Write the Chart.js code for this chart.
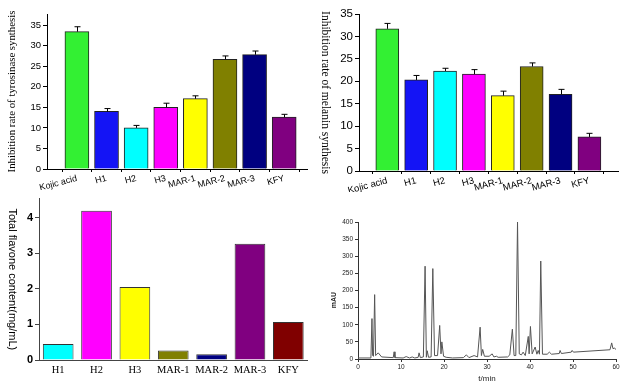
<!DOCTYPE html>
<html>
<head>
<meta charset="utf-8">
<script src="https://cdn.jsdelivr.net/npm/chart.js@4"></script>
<style>
  body { margin: 0; background: #fff; }
  #wrap { position: relative; width: 630px; height: 386px; overflow: hidden; }
  canvas { position: absolute; }
</style>
</head>
<body>
<div id="wrap">
  <canvas id="tyr" width="315" height="190" style="left:0;top:0"></canvas>
  <canvas id="mel" width="315" height="192" style="left:315px;top:0"></canvas>
  <canvas id="flav" width="315" height="196" style="left:0;top:190px"></canvas>
  <canvas id="hplc" width="310" height="196" style="left:320px;top:190px"></canvas>
</div>
<script>
// Inhibition panels (top row)
const inhibitionLabels = ['Kojic acid', 'H1', 'H2', 'H3', 'MAR-1', 'MAR-2', 'MAR-3', 'KFY'];
const inhibitionColors = ['#33f033', '#1414f5', '#00ffff', '#ff00ff', '#ffff00', '#808000', '#000080', '#800080'];
const tyrosinaseRate = [33.4, 14.0, 10.0, 15.0, 17.1, 26.7, 27.8, 12.6];
const tyrosinaseErr = [1.2, 0.7, 0.6, 1.0, 0.7, 0.8, 0.9, 0.7];
const melaninRate = [31.7, 20.3, 22.3, 21.6, 16.8, 23.3, 17.1, 7.6];
const melaninErr = [1.2, 1.0, 0.6, 1.0, 1.0, 0.8, 1.1, 0.8];

// Flavone panel (bottom left)
const flavoneLabels = ['H1', 'H2', 'H3', 'MAR-1', 'MAR-2', 'MAR-3', 'KFY'];
const flavoneColors = ['#00ffff', '#ff00ff', '#ffff00', '#808000', '#000080', '#800080', '#800000'];
const flavoneContent = [0.45, 4.2, 2.05, 0.27, 0.16, 3.27, 1.07];

// HPLC chromatogram (bottom right)
const chromTime = [0, 3.0, 3.25, 3.4, 3.6, 3.87, 4.1, 4.7, 5.5, 8.2, 8.4, 8.6, 10.5, 11.2, 12, 12.6, 13.2, 14.0, 14.2, 14.5,
  15.2, 15.6, 15.9, 16.1, 16.4, 17.0, 17.4, 17.8, 18.5, 19.0, 19.3, 19.5, 19.9, 20.5, 22, 24.5, 25.2, 25.8, 27, 27.8,
  28.4, 28.7, 29.0, 29.4, 30.5, 31.2, 31.6, 32.2, 32.6, 34.8, 35.3, 35.9, 36.3, 36.7, 37.1, 37.5, 38.0, 38.4, 38.9, 39.6,
  39.8, 40.1, 40.5, 41.2, 41.6, 41.9, 42.2, 42.5, 42.9, 44.0, 44.5, 45.0, 46.8, 47.0, 47.3, 49.6, 49.8, 50.1, 58.6, 59.0,
  59.3, 59.6, 60];
const chromSignal = [3, 3, 118, 10, 8, 188, 10, 18, 6, 4, 21, 4, 3, 7, 3, 6, 3, 5, 18, 4,
  6, 271, 5, 24, 5, 6, 264, 10, 10, 98, 15, 50, 8, 5, 3, 4, 12, 4, 10, 6,
  93, 10, 28, 8, 8, 15, 6, 8, 5, 6, 12, 87, 10, 10, 400, 15, 12, 20, 10, 66,
  15, 95, 15, 35, 14, 25, 14, 286, 14, 14, 20, 14, 16, 25, 16, 20, 25, 20, 27, 47,
  30, 32, 28];

Chart.defaults.font.family = 'Liberation Sans, Arial, sans-serif';
Chart.defaults.color = '#000';
Chart.defaults.animation = false;

// Draw upper error whiskers on top of each bar
const errorBars = {
  id: 'errorBars',
  afterDatasetsDraw(chart, args, opts) {
    if (!opts.errors) return;
    const ctx = chart.ctx;
    const yScale = chart.scales.y;
    const meta = chart.getDatasetMeta(0);
    ctx.save();
    ctx.strokeStyle = '#000';
    ctx.lineWidth = 1;
    meta.data.forEach((bar, i) => {
      const v = chart.data.datasets[0].data[i].y;
      const top = yScale.getPixelForValue(v + opts.errors[i]);
      const x = Math.round(bar.x) + 0.5;
      ctx.beginPath();
      ctx.moveTo(x, bar.y);
      ctx.lineTo(x, top);
      ctx.moveTo(x - 3, top);
      ctx.lineTo(x + 3, top);
      ctx.stroke();
    });
    ctx.restore();
  }
};

// Vertical axis title, either direction
const sideTitle = {
  id: 'sideTitle',
  afterDraw(chart, args, opts) {
    if (!opts.text) return;
    const ctx = chart.ctx;
    const area = chart.chartArea;
    ctx.save();
    ctx.translate(opts.x, opts.y !== undefined ? opts.y : (area.top + area.bottom) / 2);
    ctx.rotate(opts.clockwise ? Math.PI / 2 : -Math.PI / 2);
    ctx.font = opts.font;
    ctx.fillStyle = opts.color || '#000';
    ctx.textAlign = 'center';
    ctx.textBaseline = 'middle';
    ctx.fillText(opts.text, 0, 0);
    ctx.restore();
  }
};

function inhibitionChart(id, values, errors, cfg) {
  const points = values.map((v, i) => ({ x: i, y: v }));
  new Chart(document.getElementById(id), {
    type: 'bar',
    data: {
      datasets: [{
        data: points,
        backgroundColor: inhibitionColors,
        borderColor: '#222',
        borderWidth: 1,
        barThickness: cfg.barWidth
      }]
    },
    plugins: [errorBars, sideTitle],
    options: {
      responsive: false,
      layout: { padding: { top: 14, right: cfg.padRight, left: 0, bottom: 0 } },
      plugins: {
        legend: { display: false },
        tooltip: { enabled: false },
        errorBars: { errors: errors },
        sideTitle: cfg.title
      },
      scales: {
        x: {
          type: 'linear',
          offset: false,
          min: cfg.xMin,
          max: cfg.xMax,
          afterFit: s => { s.height = cfg.xHeight; },
          afterBuildTicks: s => { s.ticks = inhibitionLabels.map((c, i) => ({ value: i })); },
          grid: { drawOnChartArea: false, tickLength: 3, color: '#000' },
          border: { color: '#000' },
          ticks: {
            autoSkip: false,
            minRotation: 15,
            maxRotation: 15,
            padding: 1,
            font: { size: cfg.xFont },
            callback: v => inhibitionLabels[v]
          }
        },
        y: {
          min: 0,
          max: cfg.yMax,
          afterFit: s => { s.width = cfg.yWidth; },
          grid: { drawOnChartArea: false, tickLength: 4, color: '#000' },
          border: { color: '#000' },
          ticks: { stepSize: 5, includeBounds: false, padding: 2, font: { size: cfg.yFont } }
        }
      }
    }
  });
}

inhibitionChart('tyr', tyrosinaseRate, tyrosinaseErr, {
  barWidth: 24, padRight: 8, xMin: -1.01, xMax: 7.77, xHeight: 21, yMax: 37.7, yWidth: 47, xFont: 9, yFont: 9.5,
  title: { text: 'Inhibition rate of tyrosinase synthesis', x: 12, clockwise: false, font: '10.8px "Liberation Serif", serif' }
});

inhibitionChart('mel', melaninRate, melaninErr, {
  barWidth: 23, padRight: 12, xMin: -0.98, xMax: 7.99, xHeight: 21, yMax: 35, yWidth: 44, xFont: 9.5, yFont: 11.5,
  title: { text: 'Inhibition rate of melanin synthesis', x: 10, clockwise: true, font: '11.5px "Liberation Serif", serif' }
});

new Chart(document.getElementById('flav'), {
  type: 'bar',
  data: {
    labels: flavoneLabels,
    datasets: [{
      data: flavoneContent,
      backgroundColor: flavoneColors,
      borderColor: '#333',
      borderWidth: 1,
      barPercentage: 0.8,
      categoryPercentage: 1
    }]
  },
  plugins: [sideTitle],
  options: {
    responsive: false,
    layout: { padding: { top: 8, right: 7.5, left: 0, bottom: 0 } },
    plugins: {
      legend: { display: false },
      tooltip: { enabled: false },
      sideTitle: { text: 'Total flavone content(mg/mL)', x: 12, clockwise: true, font: '11px "Liberation Sans", Arial, sans-serif' }
    },
    scales: {
      x: {
        afterFit: s => { s.height = 26; },
        grid: { drawOnChartArea: false, drawTicks: false },
        border: { color: '#444' },
        ticks: { padding: 4, autoSkip: false, minRotation: 0, maxRotation: 0, font: { family: 'Liberation Serif, serif', size: 10.5 } }
      },
      y: {
        min: 0,
        max: 4.54,
        afterFit: s => { s.width = 39; },
        grid: { drawOnChartArea: false, tickLength: 4, color: '#444' },
        border: { color: '#444' },
        ticks: { stepSize: 1, includeBounds: false, padding: 2, font: { size: 11, weight: 'bold' } }
      }
    }
  }
});

new Chart(document.getElementById('hplc'), {
  type: 'line',
  data: {
    datasets: [{
      data: chromTime.map((t, i) => ({ x: t, y: chromSignal[i] })),
      borderColor: '#555',
      borderWidth: 1,
      pointRadius: 0,
      tension: 0
    }]
  },
  plugins: [sideTitle],
  options: {
    responsive: false,
    layout: { padding: { top: 32, right: 14, left: 0, bottom: 0 } },
    plugins: {
      legend: { display: false },
      tooltip: { enabled: false },
      sideTitle: { text: 'mAU', x: 14, y: 110, clockwise: false, font: 'bold 7px "Liberation Sans", Arial, sans-serif', color: '#222' }
    },
    scales: {
      x: {
        type: 'linear',
        min: 0,
        max: 60,
        afterFit: s => { s.height = 27; },
        grid: { drawOnChartArea: false, tickLength: 3, color: '#333' },
        border: { color: '#333' },
        ticks: { stepSize: 10, padding: 1, color: '#222', font: { size: 6.5 } },
        title: { display: true, text: 't/min', color: '#222', padding: { top: 1, bottom: 2 }, font: { size: 8 } }
      },
      y: {
        min: 0,
        max: 400,
        afterFit: s => { s.width = 38; },
        grid: { drawOnChartArea: false, tickLength: 3, color: '#333' },
        border: { color: '#333' },
        ticks: { stepSize: 50, padding: 2, color: '#222', font: { size: 6.5 } }
      }
    }
  }
});
</script>
</body>
</html>
